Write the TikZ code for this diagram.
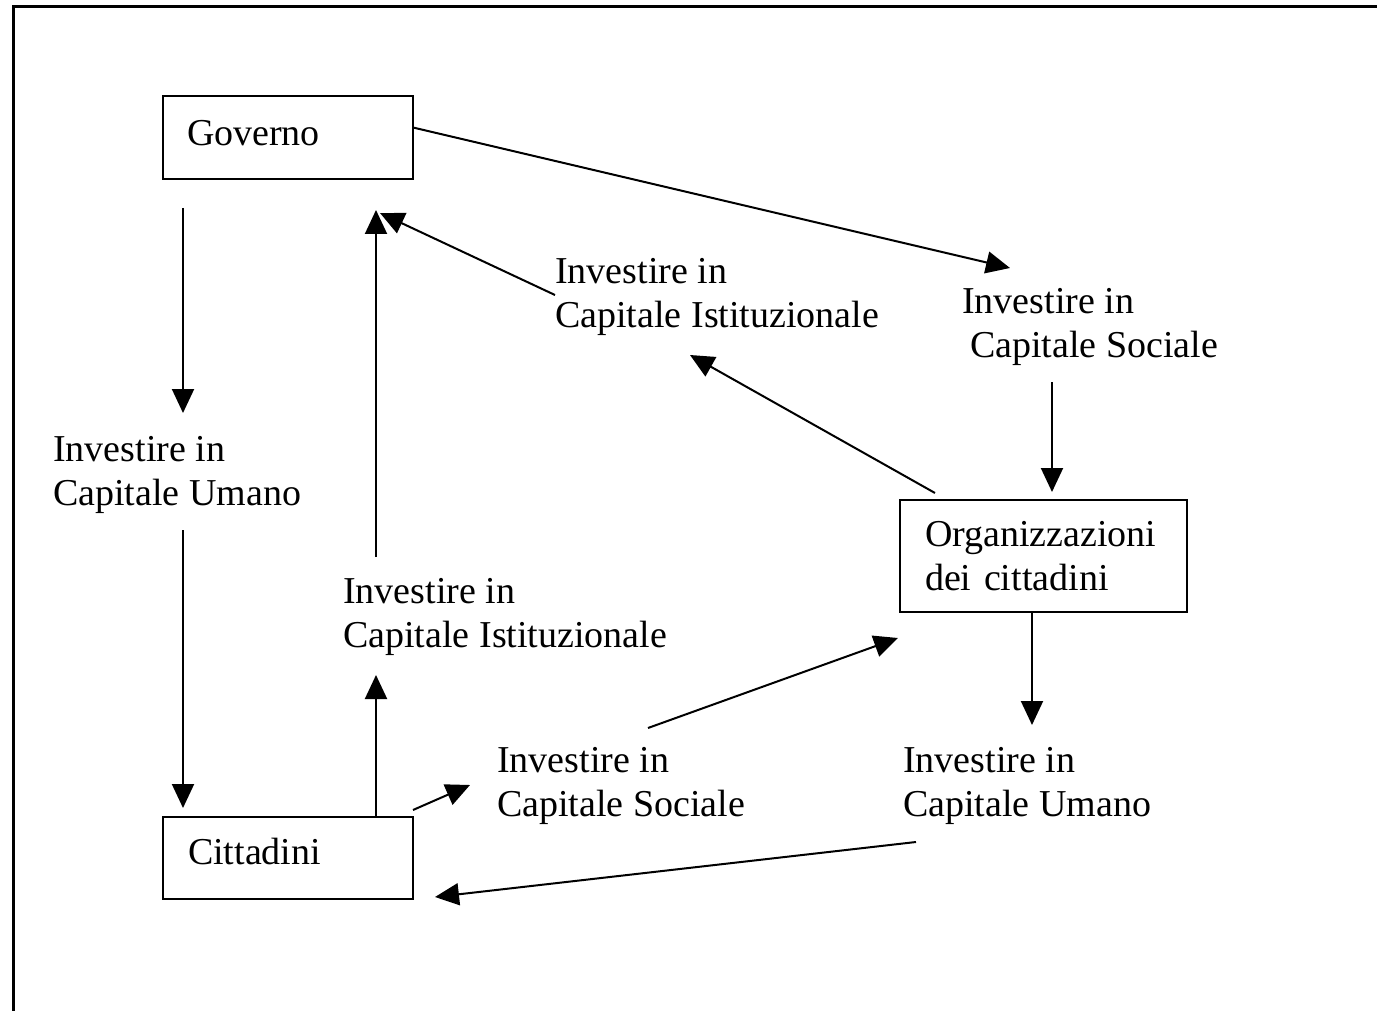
\documentclass[tikz,border=0pt]{standalone}
\usepackage{fontspec}
\setmainfont{Liberation Serif}
\usetikzlibrary{arrows.meta,calc}

\tikzset{
  every node/.style={font=\fontsize{38}{44}\selectfont},
  box/.style={draw, line width=2pt, outer sep=0pt, anchor=north west, align=left, inner ysep=0pt},
  lbl/.style={align=left, inner sep=0pt, anchor=base west},
  link/.style={->, line width=2pt}
}

\begin{document}
\begin{tikzpicture}[x=1pt, y=-1pt, >={Triangle[length=24pt,width=22pt]}]

	\useasboundingbox (0,0) rectangle (1377,1011);
	\draw [line width=3pt] (13,1011) -- (13,7) -- (1377,7);

	% actors
	\node [box, inner xsep=24pt, text width=202pt, minimum height=83pt, text depth=10pt] (gov) at (163,96) {Governo};
	\node [box, inner xsep=25pt, text width=237pt, minimum height=112pt] (org) at (900,500) {Organizzazioni\\dei cittadini};
	\node [box, inner xsep=25pt, text width=200pt, minimum height=82pt, text depth=14pt] (cit) at (163,817) {Cittadini};

	% investments (placed by the baseline of the last line)
	\node [lbl] (hum1) at (53,505) {Investire in\\Capitale Umano};
	\node [lbl] (ist1) at (555,327) {Investire in\\Capitale Istituzionale};
	\node [lbl] (soc1) at (962,357) {Investire in\\\hspace*{8pt}Capitale Sociale};
	\node [lbl] (ist2) at (343,647) {Investire in\\Capitale Istituzionale};
	\node [lbl] (soc2) at (497,816) {Investire in\\Capitale Sociale};
	\node [lbl] (hum2) at (903,816) {Investire in\\Capitale Umano};

	\draw [link] ($(gov.east)+(0,-10)$) -- ($(soc1.base west)+(48,-89)$);
	\draw [link] ($(gov.south west)+(20,29)$) -- ($(hum1.base west)+(130,-92)$);
	\draw [link] ($(hum1.base west)+(130,25)$) -- ($(cit.north west)+(20,-9)$);
	\draw [link] ($(ist2.base west)+(33,-90)$) -- ($(gov.south east)+(-37,31)$);
	\draw [link] ($(ist1.base west)+(0,-32)$) -- ($(gov.south east)+(-33,34)$);
	\draw [link] ($(org.north west)+(35,-7)$) -- ($(ist1.base west)+(135,28)$);
	\draw [link] ($(soc1.base west)+(90,25)$) -- ($(org.north west)+(152,-8)$);
	\draw [link] ($(org.south west)+(132,0)$) -- ($(hum2.base west)+(129,-91)$);
	\draw [link] ($(hum2.base west)+(13,26)$) -- ($(cit.south east)+(22,-2)$);
	\draw [link] ($(cit.north east)+(-37,0)$) -- ($(ist2.base west)+(33,28)$);
	\draw [link] ($(cit.north east)+(0,-7)$) -- ($(soc2.base west)+(-27,-31)$);
	\draw [link] ($(soc2.base west)+(151,-88)$) -- ($(org.south west)+(-2,26)$);

\end{tikzpicture}
\end{document}
